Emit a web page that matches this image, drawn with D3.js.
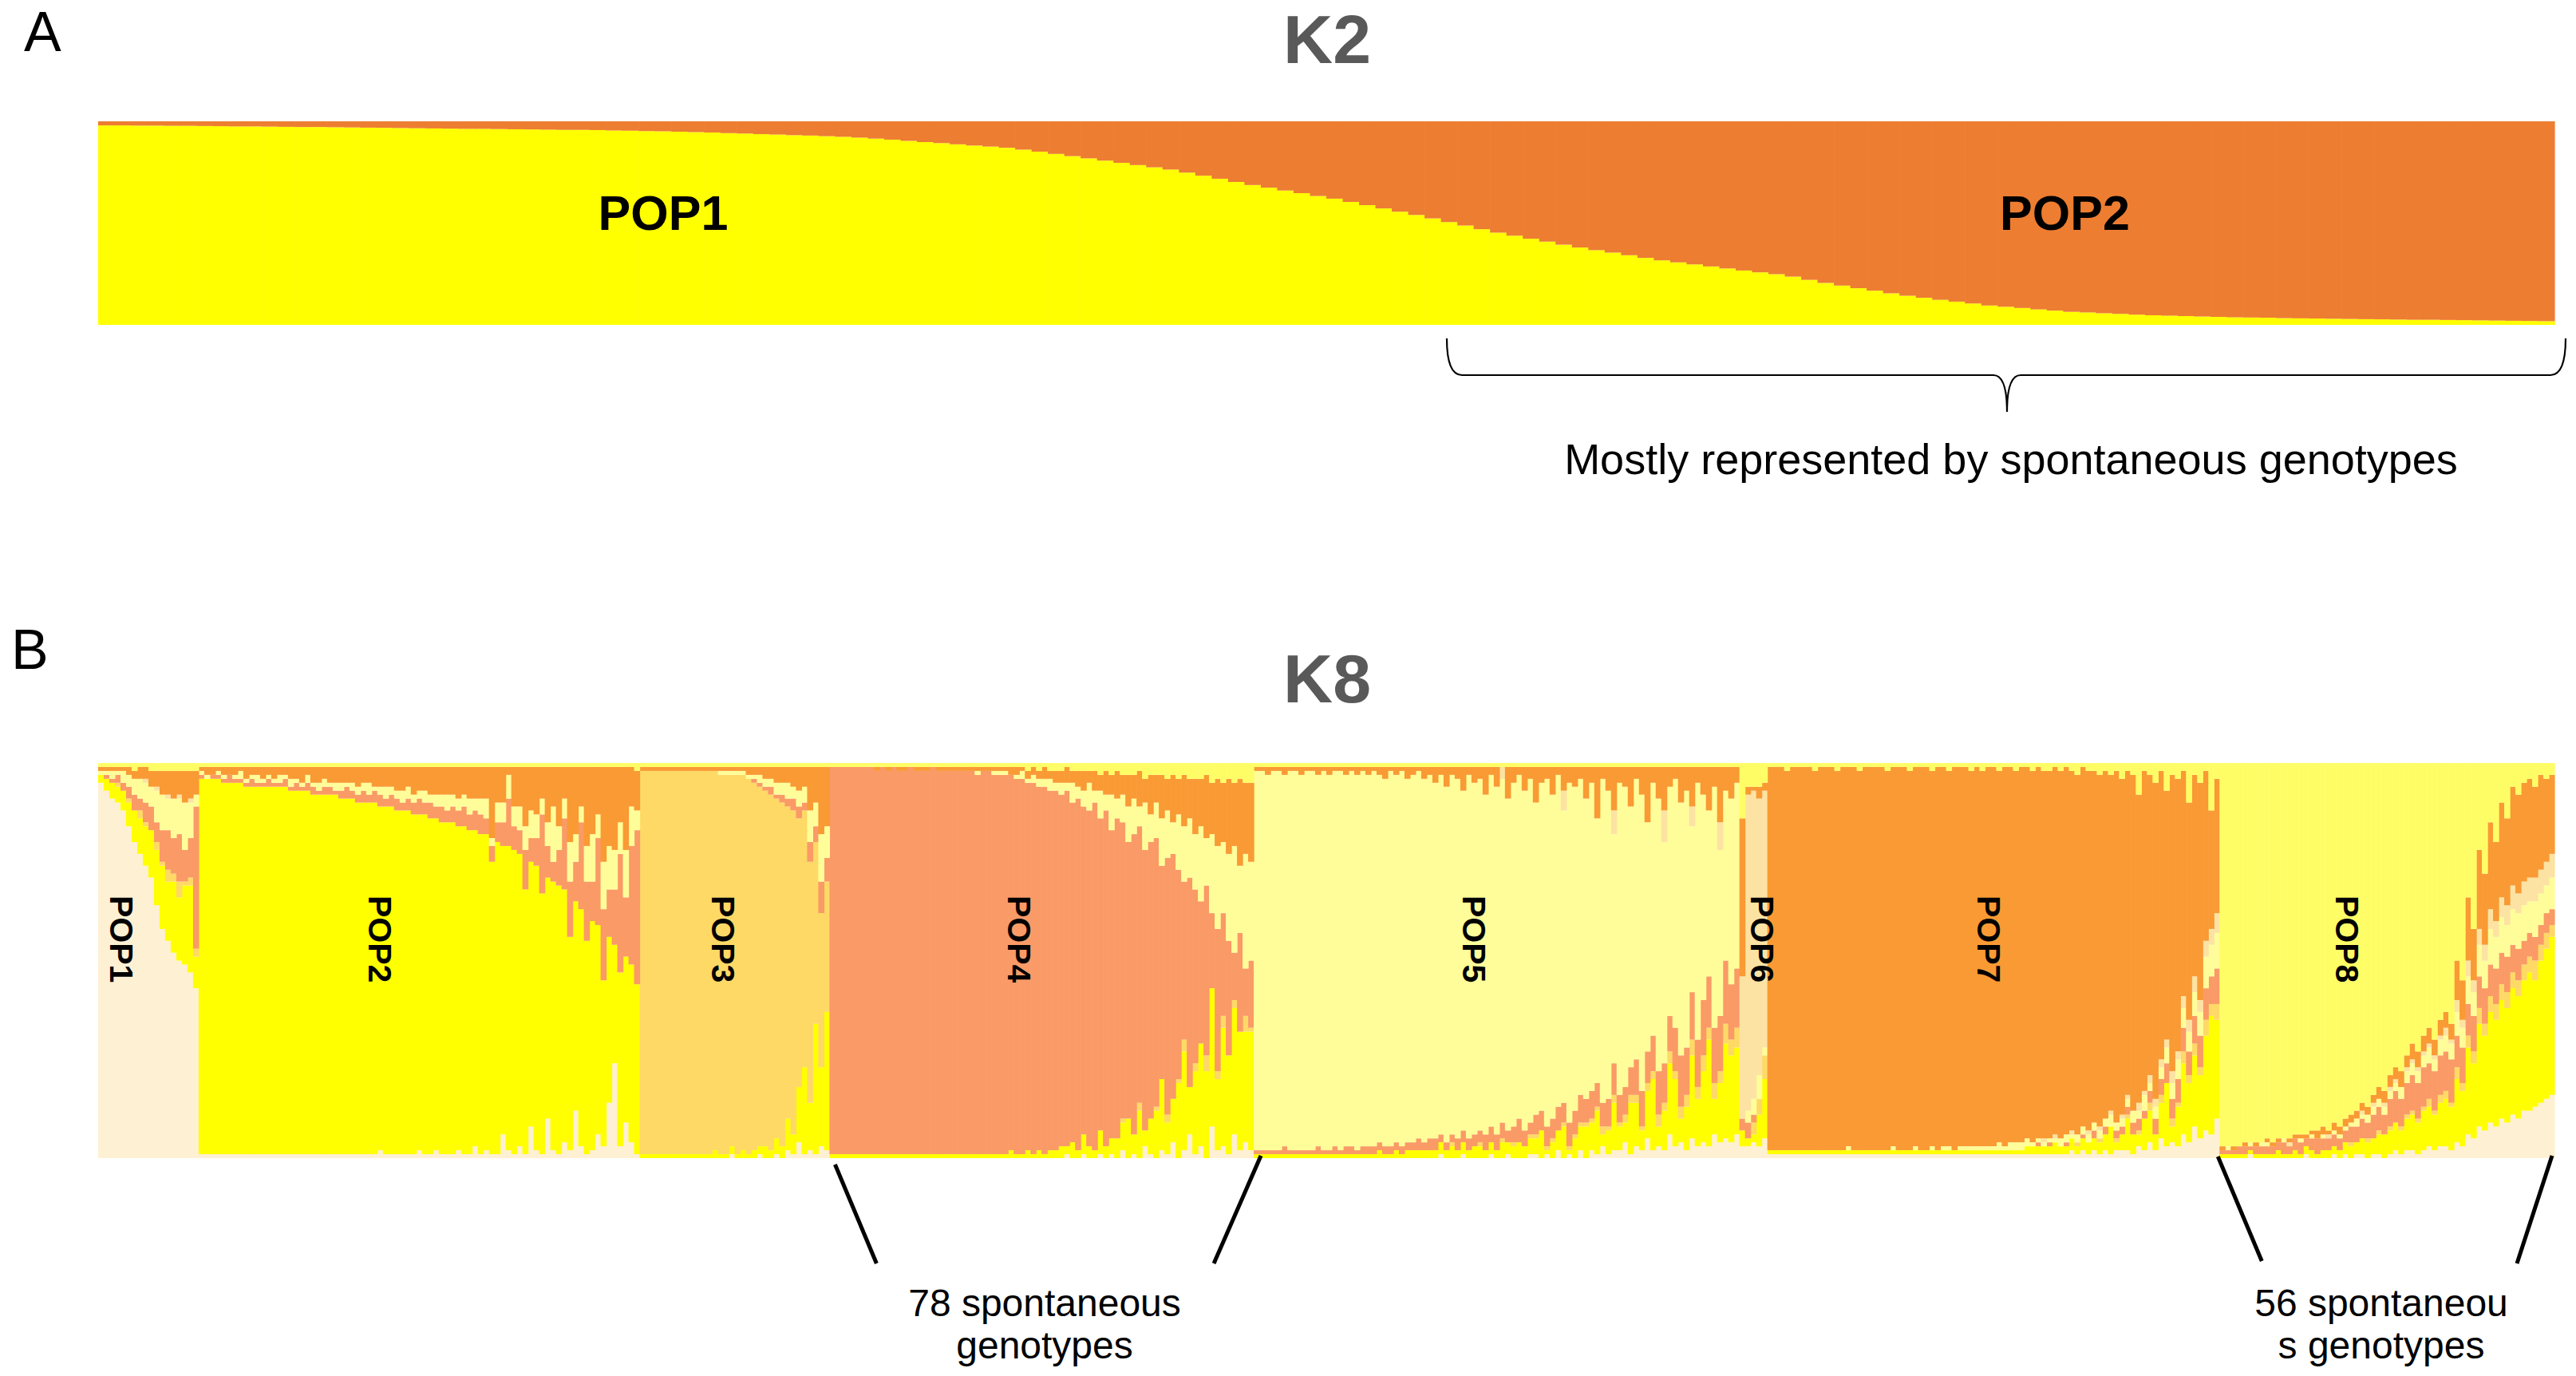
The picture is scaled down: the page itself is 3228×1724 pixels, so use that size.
<!DOCTYPE html>
<html>
<head>
<meta charset="utf-8">
<script src="https://cdn.jsdelivr.net/npm/d3@7"></script>
<style>
  html, body { margin: 0; padding: 0; background: #fff; }
  svg { display: block; }
</style>
</head>
<body>
<div id="chart"></div>
<script>
// ---------------- data ----------------
// K2: membership (%) of cluster 1, individuals sorted as in the figure
const k2Pop1 = [
  98.0,98.0,97.9,97.9,97.8,97.8,97.7,97.6,97.5,97.5,
  97.4,97.3,97.2,97.2,97.1,97.0,96.9,96.8,96.7,96.6,
  96.5,96.4,96.3,96.3,96.2,96.1,96.0,95.9,95.8,95.8,
  95.7,95.5,95.4,95.2,95.1,94.9,94.7,94.5,94.2,94.0,
  93.7,93.5,93.2,93.0,92.7,92.4,92.0,91.5,91.0,90.4,
  89.8,89.3,88.7,88.1,87.6,87.0,86.1,85.1,84.0,82.9,
  81.8,80.7,79.6,78.5,77.4,76.3,74.8,73.3,71.8,70.2,
  68.7,67.4,66.0,64.7,63.3,62.0,60.4,58.8,57.2,55.6,
  54.0,52.3,50.5,48.8,47.0,45.3,43.8,42.3,40.9,39.4,
  38.0,36.7,35.5,34.2,32.9,31.7,30.7,29.7,28.7,27.7,
  26.7,25.8,24.9,23.7,22.1,20.6,19.3,18.0,16.8,15.5,
  14.3,13.3,12.3,11.4,10.5,9.5,8.9,8.3,7.6,7.0,
  6.4,6.1,5.7,5.4,5.0,4.7,4.5,4.3,4.1,3.9,
  3.7,3.6,3.5,3.3,3.2,3.1,3.0,2.9,2.8,2.7,
  2.6,2.5,2.5,2.4,2.3,2.2,2.1,2.0,1.9,1.8
];
const k2Labels = ['POP1', 'POP2'];

// K8: membership (%) per cluster c1..c8, one array per population and cluster
const k8Labels = ['POP1','POP2','POP3','POP4','POP5','POP6','POP7','POP8'];

const p1_c1 = [95,93,91,90,88,84,80,77,74,71,64,58,55,52,50,49,47,43];
const p1_c2 = [2,3,4,4,5,6,8,9,10,12,14,16,15,18,16,20,22,8];
const p1_c3 = [0,0,0,1,0,1,0,2,1,0,2,1,3,2,4,1,2,2];
const p1_c4 = [0,1,1,2,2,3,4,3,5,6,5,8,10,9,12,8,10,36];
const p1_c5 = [1,1,2,1,3,3,4,5,5,5,8,9,8,10,9,12,9,3];
const p1_c6 = [0,0,0,0,0,0,0,0,1,0,1,0,1,0,1,0,1,0];
const p1_c7 = [1,1,1,1,1,2,2,3,3,4,4,6,6,7,6,8,7,6];
const p1_c8 = [1,1,1,1,1,1,2,1,1,2,2,2,2,2,2,2,2,2];

const p2_c1 = [1,1,1,1,1,1,1,1,1,1, 1,1,1,1,1,1,1,1,1,1, 1,1,1,1,1,1,1,1,1,1,
  1,1,2,1,1,1,1,1,1,2, 1,1,2,1,1,1,2,1,1,3, 1,2,1,1,6,2,1,3,1,8,
  2,1,10,2,1,4,2,12,3,1, 2,6,3,14,24,3,9,4,1];
const p2_c2 = [95,95,95,95,94,94,94,94,93,93, 93,93,93,93,93,93,92,92,92,92,
  91,91,91,91,91,90,90,90,89,89, 89,89,87,88,88,87,87,87,86,85,
  86,85,84,84,84,84,82,83,82,80, 81,80,74,79,73,77,77,74,67,67,
  72,66,61,68,68,64,54,53,60,54, 58,53,42,42,30,44,42,45,43];
const p2_c4 = [1,0,1,1,1,2,1,1,1,2, 1,1,2,1,1,2,1,2,1,2, 2,1,2,2,1,2,3,2,2,3,
  2,3,3,2,3,3,2,3,3,4, 3,4,3,4,3,4,4,5,4,5, 5,4,4,5,6,12,6,6,10,6,
  7,20,8,5,9,18,14,10,22,15, 10,22,18,12,14,30,15,30,39];
const p2_c5 = [1,1,0,1,1,0,1,2,1,1, 2,1,1,1,2,1,2,1,1,2, 1,2,2,1,2,2,1,2,2,2,
  3,1,2,3,2,2,3,3,2,2, 3,2,3,3,4,3,3,3,4,3, 4,5,2,5,5,6,5,6,6,7,
  6,4,6,14,6,5,10,7,4,9, 12,6,12,11,10,8,12,10,5];
const p2_c7 = [1,2,2,1,2,2,2,1,3,2, 2,3,2,3,2,2,3,3,4,2, 4,4,3,4,4,4,4,4,5,4,
  4,5,5,5,5,6,6,5,7,6, 6,7,7,7,7,7,8,7,8,8, 8,8,18,9,9,2,10,10,15,11,
  12,8,14,10,15,8,19,17,10,20, 17,12,24,20,21,14,21,10,10];
const p2_c8 = [1,1,1,1,1,1,1,1,1,1, 1,1,1,1,1,1,1,1,1,1, 1,1,1,1,1,1,1,1,1,1,
  1,1,1,1,1,1,1,1,1,1, 1,1,1,1,1,1,1,1,1,1, 1,1,1,1,1,1,1,1,1,1,
  1,1,1,1,1,1,1,1,1,1, 1,1,1,1,1,1,1,1,2];

const p3_c1 = [0,0,0,0,0,0,0,0,0,0, 0,0,0,0,0,0,1,0,0,0, 0,1,0,0,1,0,2,1,4,1, 2,1,3,2];
const p3_c2 = [1,1,1,1,1,1,1,1,1,1, 1,1,1,2,1,1,2,1,2,1, 2,2,3,2,4,3,8,5,14,22, 12,33,20,35];
const p3_c3 = [97,97,97,97,97,97,97,97,97,97, 97,97,97,96,96,96,94,96,95,95,
  93,91,90,90,86,87,79,82,68,65, 61,46,39,33];
const p3_c4 = [0,0,0,0,0,0,0,0,0,0, 0,0,0,0,0,0,0,0,0,0, 1,1,1,2,1,2,2,3,3,2, 5,4,8,6];
const p3_c5 = [0,0,0,0,0,0,0,0,0,0, 0,0,0,0,1,1,1,1,1,1, 1,2,2,2,3,3,4,3,4,4, 8,6,12,8];
const p3_c7 = [1,1,1,1,1,1,1,1,1,1, 1,1,1,1,1,1,1,1,1,2, 2,2,3,3,4,4,4,5,6,5, 11,9,17,15];
const p3_c8 = [1,1,1,1,1,1,1,1,1,1, 1,1,1,1,1,1,1,1,1,1, 1,1,1,1,1,1,1,1,1,1, 1,1,1,1];

const p4_c1 = [0,0,0,0,0,0,0,0,0,0, 0,0,0,0,0,0,0,0,0,0, 0,0,0,0,0,0,0,0,0,0,
  0,0,0,0,0,0,0,0,0,0, 0,0,1,0,0,1,0,0,1,0, 1,0,2,0,1,0,3,1,0,2,
  1,4,0,2,6,1,3,0,8,2, 3,1,6,2,4,2];
const p4_c2 = [1,1,1,1,1,1,1,1,1,1, 1,1,1,1,1,1,1,1,1,1, 1,1,1,1,1,1,1,1,1,1,
  1,1,2,1,1,2,1,2,1,2, 2,3,2,4,2,5,3,2,6,3, 4,5,7,10,5,12,4,9,12,18,
  8,11,19,25,12,21,26,22,35,18, 30,25,32,30,28,30];
const p4_c3 = [0,0,0,0,0,0,0,0,0,0, 0,0,0,0,0,0,0,0,0,0, 0,0,0,0,0,0,0,0,0,0,
  0,0,0,0,0,0,0,0,0,0, 0,0,0,0,0,0,0,0,0,0, 0,0,1,0,0,2,0,0,1,0,
  2,0,1,3,0,2,0,4,0,2, 3,0,2,0,4,1];
const p4_c4 = [98,98,98,98,98,98,98,98,97,98, 97,98,97,97,98,97,97,97,98,97,
  97,97,97,97,97,97,96,97,97,96, 96,96,95,95,95,93,94,92,93,91,
  91,89,90,86,89,83,85,88,79,85, 78,81,75,70,76,70,71,70,68,54,
  65,62,53,40,53,44,36,43,19,36, 26,29,12,25,12,17];
const p4_c5 = [0,0,0,0,0,0,0,0,0,0, 0,0,0,0,0,0,0,0,0,0, 0,0,0,0,0,0,1,0,0,1,
  1,1,0,1,2,1,2,2,2,3, 2,3,2,5,3,4,7,3,7,4, 9,5,7,9,9,5,12,7,9,12,
  12,8,14,14,15,14,19,12,20,21, 18,22,27,17,29,25];
const p4_c7 = [0,0,0,0,0,0,0,0,1,0, 1,0,1,1,0,1,1,1,0,1, 1,1,1,1,1,1,1,1,1,1,
  1,1,2,2,1,2,2,2,3,2, 3,3,4,3,4,5,3,5,4,6, 5,7,5,8,6,9,6,10,7,11,
  8,12,9,13,10,14,12,16,13,17, 15,19,16,22,18,20];
const p4_c8 = [1,1,1,1,1,1,1,1,1,1, 1,1,1,1,1,1,1,1,1,1, 1,1,1,1,1,1,1,1,1,1,
  1,1,1,1,1,2,1,2,1,2, 2,2,1,2,2,2,2,2,3,2, 3,2,3,3,3,2,4,3,3,3,
  4,3,4,3,4,4,4,3,5,4, 5,4,5,4,5,5];

const p5_c1 = [0,0,0,0,0,0,0,0,0,0, 0,0,0,0,0,0,0,0,0,0, 0,0,0,0,0,0,0,0,0,0,
  0,0,0,1,0,0,0,1,0,0, 0,0,1,0,0,1,0,0,0,1, 1,0,1,0,2,0,1,0,2,0,
  2,1,3,1,2,2,4,1,3,2, 5,2,3,2,6,3,4,2,5,3, 4,3,6,4,5,4,6];
const p5_c2 = [1,1,1,1,1,1,1,1,1,1, 1,1,1,1,1,1,1,1,1,1, 1,1,2,1,1,2,1,2,2,2,
  2,2,2,3,2,3,2,3,2,3, 3,2,3,2,4,3,3,4,3,4, 4,7,1,4,5,8,1,5,6,8,
  7,11,3,6,12,6,5,13,11,5, 12,18,5,10,18,17,6,11,21,12, 18,27,9,15,24,22,22];
const p5_c3 = [0,0,0,0,0,0,0,0,0,0, 0,0,0,0,0,0,0,0,0,0, 0,0,0,0,0,0,0,0,0,0,
  0,0,0,0,0,1,0,0,0,0, 1,0,0,0,1,0,1,0,0,1, 1,0,1,1,0,1,1,1,1,1,
  1,1,2,1,2,1,2,2,2,1, 2,2,3,2,3,2,3,3,4,3, 4,3,4,3,5,4,5];
const p5_c4 = [1,1,1,1,1,2,1,1,1,1, 1,2,1,1,2,1,2,2,1,2, 2,2,2,2,2,2,2,2,2,3,
  2,3,3,2,2,2,3,3,3,3, 3,4,4,4,4,3,4,6,4,3, 5,5,5,5,6,5,6,6,7,6,
  7,6,6,7,8,7,7,7,9,9, 8,9,11,10,9,11,13,12,12,12, 14,13,14,14,16,14,15];
const p5_c5 = [96,96,95,96,96,94,96,96,95,96, 96,94,96,95,95,96,94,95,95,95,
  94,95,93,93,95,93,95,92,93,93, 92,92,90,91,90,91,91,86,92,89,
  89,86,89,88,87,84,87,87,86,87, 79,83,88,82,84,74,86,82,80,76,
  78,67,82,78,58,79,76,66,71,75, 58,64,69,56,58,63,64,65,42,65,
  52,42,61,42,43,47,47];
const p5_c6 = [0,0,0,0,0,0,0,0,0,0, 0,0,0,0,0,0,0,0,0,0, 0,0,0,0,0,0,0,0,0,0,
  0,0,0,0,0,0,0,0,0,0, 0,0,0,0,3,0,0,0,0,0, 0,0,0,0,0,5,0,0,0,0,
  0,0,0,0,6,0,0,0,0,0, 0,0,0,8,0,0,0,0,5,0, 0,0,0,7,0,0,0];
const p5_c7 = [1,1,2,1,1,2,1,1,2,1, 1,2,1,2,1,1,2,1,2,1, 2,1,2,3,1,2,1,3,2,1,
  3,2,4,2,5,2,3,6,2,4, 3,7,2,5,0,8,4,2,6,3, 9,4,3,7,2,6,4,5,3,8,
  4,13,3,6,11,4,5,10,3,7, 14,4,8,11,5,3,9,6,10,4, 7,11,5,14,6,8,4];
const p5_c8 = [1,1,1,1,1,1,1,1,1,1, 1,1,1,1,1,1,1,1,1,1, 1,1,1,1,1,1,1,1,1,1,
  1,1,1,1,1,1,1,1,1,1, 1,1,1,1,1,1,1,1,1,1, 1,1,1,1,1,1,1,1,1,1,
  1,1,1,1,1,1,1,1,1,1, 1,1,1,1,1,1,1,1,1,1, 1,1,1,1,1,1,1];

const p6_c1 = [3,3,4,3,5];
const p6_c2 = [4,2,2,8,15];
const p6_c3 = [0,0,3,4,6];
const p6_c4 = [3,4,2,0,0];
const p6_c5 = [0,3,4,6,2];
const p6_c6 = [36,80,78,70,65];
const p6_c7 = [40,2,1,3,2];
const p6_c8 = [14,6,6,6,5];

const p7_c1 = [1,1,1,1,1,1,1,1,1,1, 1,1,1,1,1,1,1,1,1,1, 1,1,1,1,1,1,1,1,1,1,
  1,1,1,1,1,1,1,1,1,1, 1,1,1,1,1,1,1,1,1,1, 1,1,1,1,2,1,2,1,2,1,
  2,1,2,2,2,1,3,2,4,2, 5,3,4,3,6,4,8,5,7,6, 10];
const p7_c2 = [1,1,1,1,1,1,1,1,1,1, 1,1,1,1,1,1,1,1,1,1, 1,1,1,1,1,1,1,1,1,1,
  1,1,1,1,1,1,1,1,1,1, 1,1,1,1,1,1,2,2,2,2, 2,3,2,2,3,2,3,3,3,3,
  4,7,2,4,8,5,3,8,8,4, 9,16,4,10,18,15,18,16,24,30, 25];
const p7_c3 = [0,0,0,0,0,0,0,0,0,0, 0,0,0,0,0,0,0,0,0,0, 0,0,0,0,0,0,0,0,0,0,
  0,0,0,0,0,0,0,0,0,0, 0,0,0,0,0,0,0,0,0,0, 0,0,0,0,0,1,0,0,0,1,
  0,0,1,0,1,0,1,0,2,0, 2,0,2,1,3,2,3,2,4,3, 4];
const p7_c4 = [0,0,0,0,0,0,0,0,0,0, 0,0,0,0,0,0,0,0,0,0, 0,0,0,0,0,0,0,0,0,0,
  0,0,0,0,0,0,0,0,0,0, 0,0,0,0,0,0,0,0,1,0, 1,0,0,1,0,0,1,0,2,0,
  2,0,2,2,2,3,3,2,3,4, 4,5,5,6,6,6,7,8,8,7, 9];
const p7_c5 = [0,0,0,0,0,0,0,0,0,0, 0,0,0,0,1,0,0,0,0,0, 0,0,1,0,0,0,1,0,0,1,
  0,1,1,0,1,1,1,1,1,1, 1,2,1,2,2,2,2,1,1,1, 1,1,2,2,1,2,2,2,2,2,
  2,3,2,2,2,3,2,4,2,3, 3,4,4,5,5,5,6,6,8,8, 9];
const p7_c6 = [0,0,0,0,0,0,0,0,0,0, 0,0,0,0,0,0,0,0,0,0, 0,0,0,0,0,0,0,0,0,0,
  0,0,0,0,0,0,0,0,0,0, 0,0,0,0,0,0,0,0,0,1, 0,1,0,0,1,0,0,1,0,1,
  0,1,0,1,1,0,2,1,2,2, 2,2,3,2,3,3,4,3,4,4, 5];
const p7_c7 = [97,97,97,96,97,97,97,97,96,97, 97,97,96,97,96,97,96,97,97,97,
  97,96,96,97,97,96,96,97,97,95, 97,96,95,97,96,96,95,96,95,96,
  96,94,96,95,94,95,94,94,94,93, 93,93,93,93,91,91,91,91,89,89,
  88,85,89,85,82,85,78,81,76,80, 73,63,75,69,57,55,51,55,43,30, 34];
const p7_c8 = [1,1,1,2,1,1,1,1,2,1, 1,1,2,1,1,1,2,1,1,1, 1,2,1,1,1,2,1,1,1,2,
  1,1,2,1,1,1,2,1,2,1, 1,2,1,1,2,1,1,2,1,2, 2,1,2,1,2,3,1,2,2,3,
  2,3,2,4,2,3,8,2,3,5, 2,7,3,4,2,10,3,5,2,12, 4];

const p8_c1 = [0,0,0,0,0,1,0,0,0,0, 0,0,0,0,0,1,0,0,0,0, 1,0,1,0,1,1,0,1,1,0,
  1,2,1,2,2,1,2,3,2,3, 3,2,4,3,6,5,8,7,9,8, 10,9,11,10,12,12,13,14,15,16];
const p8_c2 = [1,1,1,1,1,1,1,1,1,1, 2,1,1,2,1,2,2,1,2,2, 2,2,3,3,3,4,4,4,5,6,
  6,7,6,8,9,8,10,10,9,11, 12,11,16,14,22,19,26,24,28,27, 30,29,32,31,33,35,32,36,38,40];
const p8_c3 = [0,0,0,0,0,0,0,0,0,0, 0,0,0,0,0,0,0,0,0,0, 0,0,0,1,0,0,1,0,1,0,
  1,0,1,1,1,1,1,2,1,2, 2,1,3,2,3,3,4,3,4,4, 4,4,4,4,4,4,5,4,4,3];
const p8_c4 = [1,1,1,2,2,1,2,2,2,2, 2,3,2,3,3,2,3,4,3,3, 3,3,3,4,4,5,4,6,6,5,
  7,8,7,8,9,9,10,9,10,10, 10,11,8,9,8,9,8,9,8,9, 8,9,7,8,6,6,6,5,5,4];
const p8_c5 = [0,1,0,0,0,1,0,1,1,0, 0,1,0,0,1,0,1,0,1,0, 1,1,1,1,2,1,2,2,2,2,
  2,2,3,3,3,3,3,4,3,4, 4,4,6,5,7,6,8,7,9,8, 9,8,9,9,9,8,9,8,7,8];
const p8_c6 = [0,0,0,0,0,0,0,0,0,0, 0,0,1,0,0,0,0,0,0,1, 0,0,0,0,0,1,0,1,0,1,
  1,1,0,1,1,1,1,1,1,1, 2,1,3,2,4,3,4,4,5,4, 5,5,6,5,6,6,6,6,6,6];
const p8_c7 = [1,0,1,0,1,0,1,0,1,1, 1,0,1,1,1,1,1,2,2,1, 2,2,2,2,2,2,2,2,3,3,
  3,3,4,3,4,4,4,4,4,4, 4,4,10,10,16,13,20,18,22,20, 24,22,25,25,25,25,23,24,21,20];
const p8_c8 = [97,97,97,97,96,96,96,96,95,96, 95,95,95,94,94,94,93,93,92,93,
  91,92,90,89,88,86,87,84,82,83, 79,77,78,74,71,73,69,67,70,65,
  63,66,50,55,34,42,22,28,15,20, 10,14,6,8,5,4,6,3,4,3];

// ---------------- layout ----------------
const W = 3228, H = 1724;
const plotLeft = 123, plotRight = 3201;
const k2Top = 152, k2Bottom = 407;
const k8Top = 956, k8Bottom = 1451;
const k2Colors = ['#FFFF00', '#ED7D31'];
const k8Keys = ['c1','c2','c3','c4','c5','c6','c7','c8'];
const k8Colors = ['#FEF0D3','#FFFF00','#FED966','#FA9A66','#FFFD99','#FCE3A3','#F99A34','#FFFD66'];
const sans = "'Liberation Sans', Arial, Helvetica, sans-serif";

const svg = d3.select('#chart').append('svg')
  .attr('width', W).attr('height', H)
  .style('font-family', sans);

// ---------------- panel A : K2 ----------------
const k2Rows = k2Pop1.map(v => ({ pop1: v, pop2: 100 - v }));
const k2Series = d3.stack().keys(['pop1', 'pop2']).offset(d3.stackOffsetExpand)(k2Rows);
const xK2 = d3.scaleBand().domain(d3.range(k2Rows.length)).range([plotLeft, plotRight]).padding(0);
const xK2lin = d3.scaleLinear().domain([0, k2Rows.length]).range([plotLeft, plotRight]);
const yK2 = d3.scaleLinear().domain([0, 1]).range([k2Bottom, k2Top]);

svg.append('g').attr('class', 'k2')
  .selectAll('g').data(k2Series).join('g')
    .attr('fill', (d, i) => k2Colors[i])
  .selectAll('rect').data(d => d).join('rect')
    .attr('x', (d, i) => xK2(i))
    .attr('width', xK2.bandwidth() + 0.6)
    .attr('y', d => yK2(d[1]))
    .attr('height', d => yK2(d[0]) - yK2(d[1]));

svg.append('text').text('A')
  .attr('x', 30).attr('y', 64)
  .style('font-size', '70px');

svg.append('text').text('K2')
  .attr('x', 1663).attr('y', 79).attr('text-anchor', 'middle')
  .style('font-size', '86px').style('font-weight', 'bold').attr('fill', '#595959');

const k2LabelAt = [34.5, 120.1];
svg.append('g').selectAll('text').data(k2Labels).join('text')
  .text(d => d)
  .attr('x', (d, i) => xK2lin(k2LabelAt[i]))
  .attr('y', 288)
  .attr('text-anchor', 'middle')
  .style('font-size', '61px').style('font-weight', 'bold');

// curly brace under the POP2 half
svg.append('path')
  .attr('d', 'M1813,424 Q1813,470 1832,470 L2498,470 Q2515,470 2515,516 ' +
             'Q2515,470 2532,470 L3196,470 Q3215,470 3215,424')
  .attr('fill', 'none').attr('stroke', '#000').attr('stroke-width', 2.2);

svg.append('text').text('Mostly represented by spontaneous genotypes')
  .attr('x', 2520).attr('y', 594).attr('text-anchor', 'middle')
  .style('font-size', '54px');

// ---------------- panel B : K8 ----------------
const k8Pops = [
  { c1: p1_c1, c2: p1_c2, c3: p1_c3, c4: p1_c4, c5: p1_c5, c6: p1_c6, c7: p1_c7, c8: p1_c8 },
  { c1: p2_c1, c2: p2_c2, c4: p2_c4, c5: p2_c5, c7: p2_c7, c8: p2_c8 },
  { c1: p3_c1, c2: p3_c2, c3: p3_c3, c4: p3_c4, c5: p3_c5, c7: p3_c7, c8: p3_c8 },
  { c1: p4_c1, c2: p4_c2, c3: p4_c3, c4: p4_c4, c5: p4_c5, c7: p4_c7, c8: p4_c8 },
  { c1: p5_c1, c2: p5_c2, c3: p5_c3, c4: p5_c4, c5: p5_c5, c6: p5_c6, c7: p5_c7, c8: p5_c8 },
  { c1: p6_c1, c2: p6_c2, c3: p6_c3, c4: p6_c4, c5: p6_c5, c6: p6_c6, c7: p6_c7, c8: p6_c8 },
  { c1: p7_c1, c2: p7_c2, c3: p7_c3, c4: p7_c4, c5: p7_c5, c6: p7_c6, c7: p7_c7, c8: p7_c8 },
  { c1: p8_c1, c2: p8_c2, c3: p8_c3, c4: p8_c4, c5: p8_c5, c6: p8_c6, c7: p8_c7, c8: p8_c8 }
];

const k8Rows = [];
const popRange = [];
k8Pops.forEach((cols, pi) => {
  const n = d3.max(Object.values(cols), a => a.length);
  const start = k8Rows.length;
  for (let i = 0; i < n; i++) {
    const row = { pop: pi };
    k8Keys.forEach(k => { row[k] = (cols[k] && cols[k][i] != null) ? cols[k][i] : 0; });
    k8Rows.push(row);
  }
  popRange.push([start, k8Rows.length]);
});

const k8Series = d3.stack().keys(k8Keys).offset(d3.stackOffsetExpand)(k8Rows);
const xK8 = d3.scaleBand().domain(d3.range(k8Rows.length)).range([plotLeft, plotRight]).padding(0);
const xK8lin = d3.scaleLinear().domain([0, k8Rows.length]).range([plotLeft, plotRight]);
const yK8 = d3.scaleLinear().domain([0, 1]).range([k8Bottom, k8Top]);

svg.append('g').attr('class', 'k8')
  .selectAll('g').data(k8Series).join('g')
    .attr('fill', (d, i) => k8Colors[i])
  .selectAll('rect').data(d => d).join('rect')
    .attr('x', (d, i) => xK8(i))
    .attr('width', xK8.bandwidth() + 0.6)
    .attr('y', d => yK8(d[1]))
    .attr('height', d => Math.max(0, yK8(d[0]) - yK8(d[1])));

svg.append('text').text('B')
  .attr('x', 14).attr('y', 838)
  .style('font-size', '70px');

svg.append('text').text('K8')
  .attr('x', 1663).attr('y', 880).attr('text-anchor', 'middle')
  .style('font-size', '86px').style('font-weight', 'bold').attr('fill', '#595959');

// vertical population labels (bar index inside each population)
const k8LabelAt = [4.3, 32.6, 15.1, 34.1, 39.6, 4.1, 39.7, 23.0];
svg.append('g').selectAll('text').data(k8Labels).join('text')
  .text(d => d)
  .attr('transform', (d, i) => 'translate(' + xK8lin(popRange[i][0] + k8LabelAt[i]) + ',1122) rotate(90)')
  .attr('dy', '0.36em')
  .style('font-size', '41px').style('font-weight', 'bold');

// pointer lines for the spontaneous genotype groups
const pointers = [
  [xK8lin(popRange[3][0]) + 7, 1459, xK8lin(popRange[3][0]) + 59, 1583],
  [xK8lin(popRange[3][1]) + 9, 1448, xK8lin(popRange[3][1]) - 50, 1583],
  [xK8lin(popRange[7][0]) - 2, 1449, xK8lin(popRange[7][0]) + 53, 1580],
  [xK8lin(popRange[7][1]) - 3, 1448, xK8lin(popRange[7][1]) - 47, 1583]
];
svg.append('g').selectAll('line').data(pointers).join('line')
  .attr('x1', d => d[0]).attr('y1', d => d[1])
  .attr('x2', d => d[2]).attr('y2', d => d[3])
  .attr('stroke', '#000').attr('stroke-width', 5);

const notes = [
  { x: 1309, lines: ['78 spontaneous', 'genotypes'] },
  { x: 2984, lines: ['56 spontaneou', 's genotypes'] }
];
notes.forEach(n => {
  n.lines.forEach((t, i) => {
    svg.append('text').text(t)
      .attr('x', n.x).attr('y', 1649 + i * 53)
      .attr('text-anchor', 'middle')
      .style('font-size', '48px');
  });
});
</script>
</body>
</html>
